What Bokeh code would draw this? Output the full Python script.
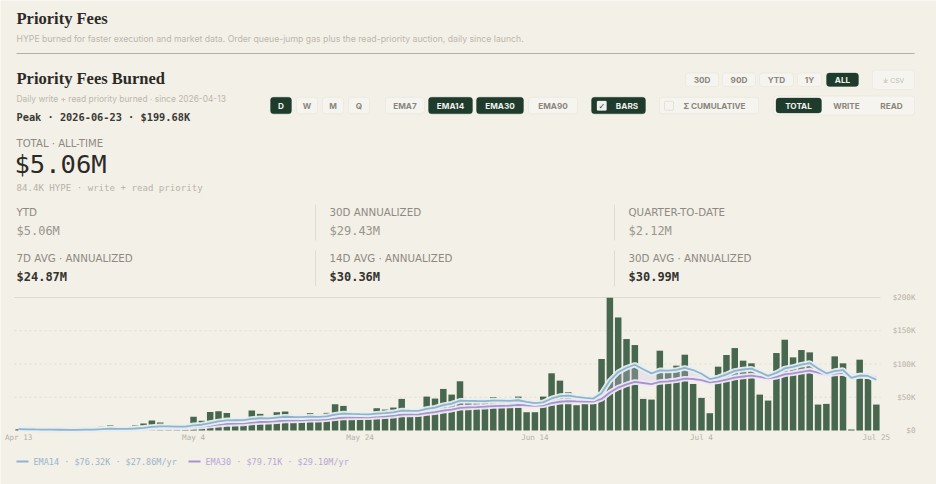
import pandas as pd
from bokeh.plotting import figure
from bokeh.models import Range1d, BoxAnnotation
from bokeh.core.properties import value
from bokeh.embed import file_html
from bokeh.resources import INLINE

# ---------------- data ----------------
start_date = "2026-04-13"
daily_burn_k = [
    2.0, 0.3, 0.2, 0.3, 0.2, 0.3, 0.4, 0.6, 3.0, 2.5,
    5.5, 7.5, 1.0, 1.2, 7.5, 10.5, 15.0, 12.0, 5.0, 4.5,
    5.0, 20.5, 14.5, 28.0, 29.0, 26.5, 16.0, 16.0, 30.0, 25.0,
    17.0, 27.5, 28.5, 18.0, 18.0, 26.0, 18.5, 26.5, 39.5, 37.0,
    21.5, 21.5, 21.5, 33.5, 31.5, 34.5, 47.5, 28.0, 28.0, 51.0,
    48.0, 62.5, 54.0, 74.0, 44.0, 42.0, 44.0, 50.0, 44.0, 43.0,
    51.0, 27.5, 27.5, 51.0, 86.0, 75.0, 57.5, 38.0, 40.0, 40.0,
    107.5, 199.68, 170.0, 137.5, 128.5, 47.5, 46.5, 120.0, 87.5, 97.5,
    114.0, 70.0, 49.0, 26.0, 96.0, 113.5, 124.0, 105.0, 101.0, 54.0,
    45.0, 116.5, 136.5, 110.0, 121.0, 117.5, 39.0, 40.0, 111.5, 101.0,
    1.5, 106.5, 77.5, 39.0,
]
tick_dates = ["2026-04-13", "2026-05-04", "2026-05-24", "2026-06-14", "2026-07-04", "2026-07-25"]
tick_labels = ["Apr 13", "May 4", "May 24", "Jun 14", "Jul 4", "Jul 25"]
y_ticks_k = [0, 50, 100, 150, 200]
y_tick_labels = ["$0", "$50K", "$100K", "$150K", "$200K"]
ema_spans = [14, 30]
legend_labels = ["EMA14 · $76.32K · $27.86M/yr", "EMA30 · $79.71K · $29.10M/yr"]

title = "Priority Fees"
subtitle = ("HYPE burned for faster execution and market data. Order queue-jump gas plus "
            "the read-priority auction, daily since launch.")
chart_title = "Priority Fees Burned"
chart_sub = "Daily write + read priority burned · since 2026-04-13"
peak_text = "Peak · 2026-06-23 · $199.68K"
total_label = "TOTAL · ALL-TIME"
total_value = "$5.06M"
total_note = "84.4K HYPE · write + read priority"
kpi_labels = ["YTD", "30D ANNUALIZED", "QUARTER-TO-DATE",
              "7D AVG · ANNUALIZED", "14D AVG · ANNUALIZED", "30D AVG · ANNUALIZED"]
kpi_values = ["$5.06M", "$29.43M", "$2.12M", "$24.87M", "$30.36M", "$30.99M"]

range_buttons = ["30D", "90D", "YTD", "1Y", "ALL"]
interval_buttons = ["D", "W", "M", "Q"]
ema_buttons = ["EMA7", "EMA14", "EMA30", "EMA90"]
series_buttons = ["TOTAL", "WRITE", "READ"]

# ---------------- style ----------------
BG = "#f3f0e8"
DARK = "#1f3b2c"
BAR = "#48674f"
INK = "#2b2a26"
MUTED = "#8e8a81"
FAINT = "#bcb7ac"
BTN_FILL = "#f6f4ee"
BTN_LINE = "#dcd8ce"
BTN_TXT = "#8a867d"
ON_TXT = "#eef2ee"
EMA_COLORS = ["#8fb3d1", "#a893cf"]
LEGEND_TEXT = ["#9db4c8", "#b8a7d6"]
SANS = "Inter"
LABEL_SANS = "DejaVu Sans"
MONO = "DejaVu Sans Mono"
SERIF = "Liberation Serif"

W, H = 936, 484
# chart frame inside the page (pixels)
FL, FR, FT, FB = 14, 880, 297, 430

n = len(daily_burn_k)
ppd = (FR - FL) / n                      # pixels per day slot
ppk = (FB - FT) / y_ticks_k[-1]          # pixels per $1K

p = figure(width=W, height=H,
           x_range=Range1d(-0.5 - FL / ppd, n - 0.5 + (W - FR) / ppd),
           y_range=Range1d(-(H - FB) / ppk, y_ticks_k[-1] + FT / ppk),
           x_axis_type=None, y_axis_type=None,
           output_backend="svg", toolbar_location=None, min_border=0,
           background_fill_color=BG, border_fill_color=BG, outline_line_color=None)
p.grid.visible = False
p.extra_x_ranges = {"px": Range1d(0, W)}
p.extra_y_ranges = {"px": Range1d(H, 0)}


def txt(x, y, s, font, size, color, style="normal", align="left", xr="px", yr="px"):
    p.text(x=[x], y=[y], text=[s], text_font=value(font), text_font_size=f"{size}px",
           text_color=color, text_font_style=style, text_align=align, text_baseline="middle",
           x_range_name=xr, y_range_name=yr)


def box(x0, x1, y0, y1, fill, line, r=3):
    p.add_layout(BoxAnnotation(left=x0, right=x1, top=y0, bottom=y1,
                               x_range_name="px", y_range_name="px",
                               fill_color=fill, fill_alpha=1, line_color=line,
                               line_width=1, border_radius=r, level="underlay"))


# ---------------- header ----------------
txt(16, 18, title, SERIF, 16.5, INK, "bold")
txt(16, 38, subtitle, SANS, 8.7, FAINT)
p.segment(x0=[16], x1=[914], y0=[53], y1=[53], line_color="#b3afa5", line_width=1,
          x_range_name="px", y_range_name="px")
txt(16, 78, chart_title, SERIF, 16.5, INK, "bold")
txt(16, 98, chart_sub, SANS, 8.4, FAINT)
txt(16, 116, peak_text, MONO, 10.3, "#3a3934", "bold")

txt(16, 142.5, total_label, LABEL_SANS, 10.1, MUTED)
txt(14, 163, total_value, MONO, 25.5, INK)
txt(16, 187, total_note, MONO, 9.1, "#b7b2a8")

kpi_x = [16, 329, 628]
for i, (lab, val) in enumerate(zip(kpi_labels, kpi_values)):
    col = i % 3
    row = i // 3
    ly = 211 + row * 46
    txt(kpi_x[col], ly, lab, LABEL_SANS, 10.3, MUTED)
    if row == 0:
        txt(kpi_x[col], ly + 19, val, MONO, 12, "#9a968c")
    else:
        txt(kpi_x[col], ly + 19, val, MONO, 12, "#34332e", "bold")
for sx in (315, 614):
    p.segment(x0=[sx, sx], x1=[sx, sx], y0=[204, 250], y1=[240, 286],
              line_color="#e0dcd3", line_width=1, x_range_name="px", y_range_name="px")

# buttons row 1
r1 = [(685, 718), (722, 755), (759, 793), (797, 821), (826, 858)]
for name, (a, b) in zip(range_buttons, r1):
    active = name == "ALL"
    box(a, b, 72.5, 86, DARK if active else BTN_FILL, DARK if active else BTN_LINE)
    txt((a + b) / 2, 79.5, name, SANS, 8.2, ON_TXT if active else BTN_TXT, "bold", "center")
box(872, 914, 69.5, 89, BTN_FILL, BTN_LINE)
txt(893, 79.5, "⤓ CSV", SANS, 6.8, "#c2bdb2", "normal", "center")

# buttons row 2
ry0, ry1, rym = 96.8, 113.3, 105.2
r2 = [(270, 291), (296, 317), (322, 343), (348, 369)]
for name, (a, b) in zip(interval_buttons, r2):
    active = name == "D"
    box(a, b, ry0, ry1, DARK if active else BTN_FILL, DARK if active else BTN_LINE)
    txt((a + b) / 2, rym, name, SANS, 8.2, ON_TXT if active else BTN_TXT, "bold", "center")
r3 = [(385, 424), (428, 472), (476, 523), (528, 577)]
for name, (a, b) in zip(ema_buttons, r3):
    active = name in ("EMA14", "EMA30")
    box(a, b, ry0, ry1, DARK if active else BTN_FILL, DARK if active else BTN_LINE)
    txt((a + b) / 2, rym, name, SANS, 8.2, ON_TXT if active else BTN_TXT, "bold", "center")
box(591, 645, ry0, ry1, DARK, DARK)
box(596.5, 606, 100.5, 110, ON_TXT, ON_TXT, 1)
txt(601.3, 105.5, "✓", "DejaVu Sans", 8, DARK, "bold", "center")
txt(626.5, rym, "BARS", SANS, 8.2, ON_TXT, "bold", "center")
box(659, 758, ry0, ry1, BTN_FILL, BTN_LINE)
box(664, 673, 100.8, 109.8, BTN_FILL, "#b9b5ab", 1)
txt(714, rym, "Σ CUMULATIVE", SANS, 8.2, BTN_TXT, "bold", "center")
box(773, 914, 95.5, 114.5, BTN_FILL, BTN_LINE)
box(775.5, 821, 97.5, 112.5, DARK, DARK)
for name, cx in zip(series_buttons, (798, 846, 891)):
    active = name == "TOTAL"
    txt(cx, rym, name, SANS, 8.2, ON_TXT if active else BTN_TXT, "bold", "center")

# ---------------- chart (day index / $K scales) ----------------
dates = pd.date_range(start_date, periods=n, freq="D")
day_idx = [(d - dates[0]).days for d in dates]
tick_idx = [(pd.Timestamp(t) - dates[0]).days for t in tick_dates]
burn = pd.Series(daily_burn_k)
emas = [burn.ewm(span=s, adjust=False).mean().tolist() for s in ema_spans]

# gridlines
x_lo, x_hi = day_idx[0] - 0.5, day_idx[-1] + 0.5
p.segment(x0=[x_lo] * 3, x1=[x_hi] * 3, y0=y_ticks_k[1:-1], y1=y_ticks_k[1:-1],
          line_color="#e0dcd2", line_width=1, line_dash="2 3")
p.segment(x0=[x_lo], x1=[x_hi], y0=[y_ticks_k[-1]], y1=[y_ticks_k[-1]],
          line_color="#dedad0", line_width=1)

p.vbar(x=day_idx, top=daily_burn_k, width=0.78, fill_color=BAR, line_color=None)
p.varea(x=day_idx, y1=emas[0], y2=emas[1], fill_color="#cdc6ea", fill_alpha=0.3)
halo = ["#e6efee", "#eee9f4"]
for k in (1, 0):
    p.line(x=day_idx, y=emas[k], line_color=halo[k], line_width=5.5, line_alpha=0.95)
    p.line(x=day_idx, y=emas[k], line_color=EMA_COLORS[k], line_width=1.8)

# axis tick labels
AX_TXT = "#b6b1a6"
p.text(x=tick_idx, y=[437] * len(tick_idx), text=tick_labels, text_font=value(MONO),
       text_font_size="7.6px", text_color=AX_TXT, text_align="center", text_baseline="middle",
       y_range_name="px")
p.text(x=[915] * len(y_ticks_k), y=y_ticks_k, text=y_tick_labels, text_font=value(MONO),
       text_font_size="7.6px", text_color=AX_TXT, text_align="right", text_baseline="middle",
       x_range_name="px")

# ---------------- legend ----------------
leg_x = [(16, 28, 33), (188, 200, 205)]
for k, (a, b, tx) in enumerate(leg_x):
    p.segment(x0=[a], x1=[b], y0=[461], y1=[461], line_color=EMA_COLORS[k], line_width=2,
              x_range_name="px", y_range_name="px")
    txt(tx, 461, legend_labels[k], MONO, 8.5, LEGEND_TEXT[k])

open("out.html", "w").write(file_html(p, INLINE))
